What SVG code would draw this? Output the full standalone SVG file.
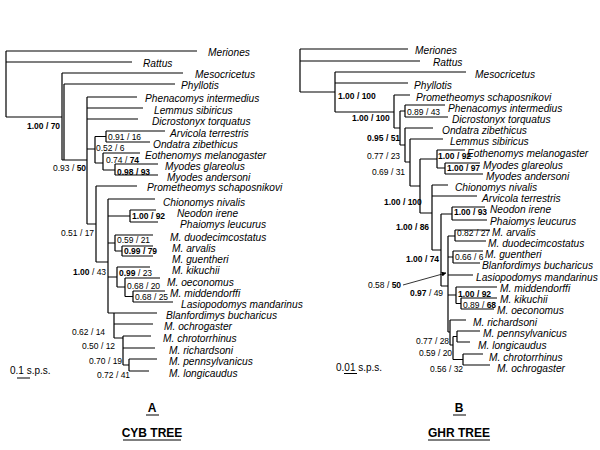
<svg xmlns="http://www.w3.org/2000/svg" width="600" height="450" viewBox="0 0 600 450">
<style>
.sp{font-family:"Liberation Sans",Arial,sans-serif;font-style:italic;font-size:10.2px;fill:#000}
.bs{font-family:"Liberation Sans",Arial,sans-serif;font-size:8.5px;fill:#000}
.b{font-weight:bold}
.sc{font-family:"Liberation Sans",Arial,sans-serif;font-size:10px;fill:#000}
.ttl{font-family:"Liberation Sans",Arial,sans-serif;font-size:12px;font-weight:bold;fill:#000}
.ln{fill:none;stroke:#000;stroke-width:1.2}
</style>
<defs>
<marker id="ah" viewBox="0 0 10 10" refX="9" refY="5" markerWidth="6" markerHeight="6" orient="auto"><path d="M0 0L10 5L0 10z" fill="#000"/></marker>
</defs>
<rect width="600" height="450" fill="#fff"/>
<g id="connectors">
<path class="ln" d="M6 51V117M6 51H197M6 62H132M6 117H62M62 73V160M64 84V160M62 73H183M64 84H175M62 160H87M87 97V224M87 97H137M87 108H143M87 119H138M87 149H95M95 136.5V163M95 136.5H106M106 131V142M106 131H165M106 142H150M95 163H103M103 153V170M103 153H140M103 170H115M115 164V175M115 164H158M115 175H158M87 224H96M96 186V262M96 186H137M96 262H108M108 199V313M108 199H155M108 216H130M130 210V222M130 210H156M130 222H158M108 243H115M115 235V251M115 235H153M115 251H122M122 246V256M122 246H153M122 256H153M108 277H117M117 267V287M117 267H150M117 287H125M125 278V296.5M125 278H160M125 296.5H133M133 291V302M133 291H165M133 302H173M108 313H157M114 313V338M114 324H153M114 338H123M123 336V365M123 336H151M123 348H155M123 365H129M129 359V371M129 359H157M129 371H149"/>
<path class="ln" d="M300 49V92M300 49H408M300 61H420M300 92H335M335 72V112M335 72H466M335 83H408M335 112H394M394 95V128M394 95H410M394 128H400M400 111V145M400 111H405M405 105V117M405 105H445M405 117H448M400 145H405M405 128V162M405 128H433M405 162H410M410 139V186M410 139H443M410 186H420M420 159V213M420 159H437M437 150V168M437 150H465M437 168H445M445 163V174M445 163H480M445 174H483M420 213H432M432 185V250M432 185H448M432 196H477M432 250H441M441 214V286M441 214H452M452 207V220M452 207H485M452 220H487M441 286H448M448 236V332M448 236H455M455 230V241M455 230H490M455 241H486M448 257H453M453 251V263M453 251H483M453 263H480M448 275H473M448 295H456M456 287V303.5M456 287H497M456 303.5H461M461 298V309M461 298H497M461 309H494M448 332H450M450 320V345M450 320H466M450 345H453M453 336.5V359.5M453 336.5H457M457 331V342M457 331H480M457 342H470M453 359.5H463M463 354V365M463 354H483M463 365H490"/>
<path d="M403 285L446 273" fill="none" stroke="#000" stroke-width="0.8" marker-end="url(#ah)"/>
<path class="ln" d="M17 378H30M344 373.5H357M146 415H159M123 440H181M453 415H466M428 440H490"/>
</g>
<g id="cyb-taxa">
<text class="sp" x="208" y="55.5">Meriones</text>
<text class="sp" x="143" y="67">Rattus</text>
<text class="sp" x="195" y="78">Mesocricetus</text>
<text class="sp" x="181" y="89">Phyllotis</text>
<text class="sp" x="145" y="102">Phenacomys intermedius</text>
<text class="sp" x="154" y="114">Lemmus sibiricus</text>
<text class="sp" x="152" y="124.5">Dicrostonyx torquatus</text>
<text class="sp" x="170" y="136.5">Arvicola terrestris</text>
<text class="sp" x="153" y="148">Ondatra zibethicus</text>
<text class="sp" x="145" y="159">Eothenomys melanogaster</text>
<text class="sp" x="165" y="169.5">Myodes glareolus</text>
<text class="sp" x="167" y="180.5">Myodes andersoni</text>
<text class="sp" x="147" y="191">Prometheomys schaposnikovi</text>
<text class="sp" x="163" y="205.5">Chionomys nivalis</text>
<text class="sp" x="177" y="216.5">Neodon irene</text>
<text class="sp" x="180" y="228">Phaiomys leucurus</text>
<text class="sp" x="170" y="241">M. duodecimcostatus</text>
<text class="sp" x="172" y="252">M. arvalis</text>
<text class="sp" x="172" y="262.5">M. guentheri</text>
<text class="sp" x="172" y="273.5">M. kikuchii</text>
<text class="sp" x="167" y="285.5">M. oeconomus</text>
<text class="sp" x="170" y="297">M. middendorffi</text>
<text class="sp" x="181" y="308">Lasiopodomys mandarinus</text>
<text class="sp" x="166" y="319">Blanfordimys bucharicus</text>
<text class="sp" x="164" y="330">M. ochrogaster</text>
<text class="sp" x="163" y="342">M. chrotorrhinus</text>
<text class="sp" x="169" y="354">M. richardsoni</text>
<text class="sp" x="169" y="364.5">M. pennsylvanicus</text>
<text class="sp" x="169" y="377">M. longicaudus</text>
</g>
<g id="cyb-support">
<text class="bs b" x="27" y="129">1.00 / 70</text>
<text class="bs" x="53" y="171">0.93 / <tspan class="b">50</tspan></text>
<text class="bs" x="108" y="139.5">0.91 / 16</text>
<text class="bs" x="96" y="151">0.52 / 6</text>
<text class="bs" x="106" y="163">0.74 / <tspan class="b">74</tspan></text>
<text class="bs b" x="117" y="174.5">0.98 / 93</text>
<text class="bs" x="61" y="236">0.51 / 17</text>
<text class="bs" x="73" y="275"><tspan class="b">1.00</tspan> / 43</text>
<text class="bs b" x="132" y="219">1.00 / 92</text>
<text class="bs" x="117" y="243">0.59 / 21</text>
<text class="bs b" x="124" y="254">0.99 / 79</text>
<text class="bs" x="119" y="276"><tspan class="b">0.99</tspan> / 23</text>
<text class="bs" x="127" y="289">0.68 / 20</text>
<text class="bs" x="135" y="300">0.68 / 25</text>
<text class="bs" x="72" y="335">0.62 / 14</text>
<text class="bs" x="82" y="349">0.50 / 12</text>
<text class="bs" x="89" y="364">0.70 / 19</text>
<text class="bs" x="97" y="378">0.72 / 41</text>
</g>
<g id="ghr-taxa">
<text class="sp" x="415" y="54">Meriones</text>
<text class="sp" x="433" y="66">Rattus</text>
<text class="sp" x="475" y="78">Mesocricetus</text>
<text class="sp" x="414" y="89">Phyllotis</text>
<text class="sp" x="416" y="100.5">Prometheomys schaposnikovi</text>
<text class="sp" x="448" y="111.5">Phenacomys intermedius</text>
<text class="sp" x="452" y="122.5">Dicrostonyx torquatus</text>
<text class="sp" x="442" y="133.5">Ondatra zibethicus</text>
<text class="sp" x="450" y="145">Lemmus sibiricus</text>
<text class="sp" x="467" y="157">Eothenomys melanogaster</text>
<text class="sp" x="483" y="168.5">Myodes glareolus</text>
<text class="sp" x="486" y="180">Myodes andersoni</text>
<text class="sp" x="455" y="191">Chionomys nivalis</text>
<text class="sp" x="482" y="202">Arvicola terrestris</text>
<text class="sp" x="490" y="213">Neodon irene</text>
<text class="sp" x="490" y="224.5">Phaiomys leucurus</text>
<text class="sp" x="492" y="235.5">M. arvalis</text>
<text class="sp" x="488" y="247">M. duodecimcostatus</text>
<text class="sp" x="485" y="258">M. guentheri</text>
<text class="sp" x="482" y="269">Blanfordimys bucharicus</text>
<text class="sp" x="476" y="280.5">Lasiopodomys mandarinus</text>
<text class="sp" x="500" y="292">M. middendorffi</text>
<text class="sp" x="500" y="303">M. kikuchii</text>
<text class="sp" x="497" y="314">M. oeconomus</text>
<text class="sp" x="473" y="325.5">M. richardsoni</text>
<text class="sp" x="483" y="337">M. pennsylvanicus</text>
<text class="sp" x="478" y="348.5">M. longicaudus</text>
<text class="sp" x="489" y="360.5">M. chrotorrhinus</text>
<text class="sp" x="497" y="372">M. ochrogaster</text>
</g>
<g id="ghr-support">
<text class="bs b" x="338" y="99">1.00 / 100</text>
<text class="bs b" x="352" y="121">1.00 / 100</text>
<text class="bs" x="407" y="115">0.89 / 43</text>
<text class="bs b" x="367" y="141">0.95 / 51</text>
<text class="bs" x="367" y="159">0.77 / 23</text>
<text class="bs" x="372" y="175">0.69 / 31</text>
<text class="bs b" x="438" y="159">1.00 / 92</text>
<text class="bs b" x="447" y="170.5">1.00 / 97</text>
<text class="bs b" x="384" y="205">1.00 / 100</text>
<text class="bs b" x="396" y="230">1.00 / 86</text>
<text class="bs b" x="454" y="215">1.00 / 93</text>
<text class="bs b" x="406" y="262">1.00 / 74</text>
<text class="bs" x="457" y="236">0.82 / 27</text>
<text class="bs" x="455" y="260">0.66 / 6</text>
<text class="bs" x="368" y="288">0.58 / <tspan class="b">50</tspan></text>
<text class="bs" x="410" y="296"><tspan class="b">0.97</tspan> / 49</text>
<text class="bs b" x="458" y="297">1.00 / 92</text>
<text class="bs" x="463" y="308">0.89 / <tspan class="b">68</tspan></text>
<text class="bs" x="416" y="344">0.77 / 28</text>
<text class="bs" x="419" y="356">0.59 / 20</text>
<text class="bs" x="430" y="372">0.56 / 32</text>
</g>
<g id="scales">
<text class="sc" x="10" y="374">0.1 s.p.s.</text>
<text class="sc" x="336" y="371">0.01 s.p.s.</text>
</g>
<g id="titles">
<text class="ttl" x="152" y="412" text-anchor="middle">A</text>
<text class="ttl" x="152" y="437" text-anchor="middle">CYB TREE</text>
<text class="ttl" x="459" y="412" text-anchor="middle">B</text>
<text class="ttl" x="459" y="437" text-anchor="middle">GHR TREE</text>
</g>
</svg>
